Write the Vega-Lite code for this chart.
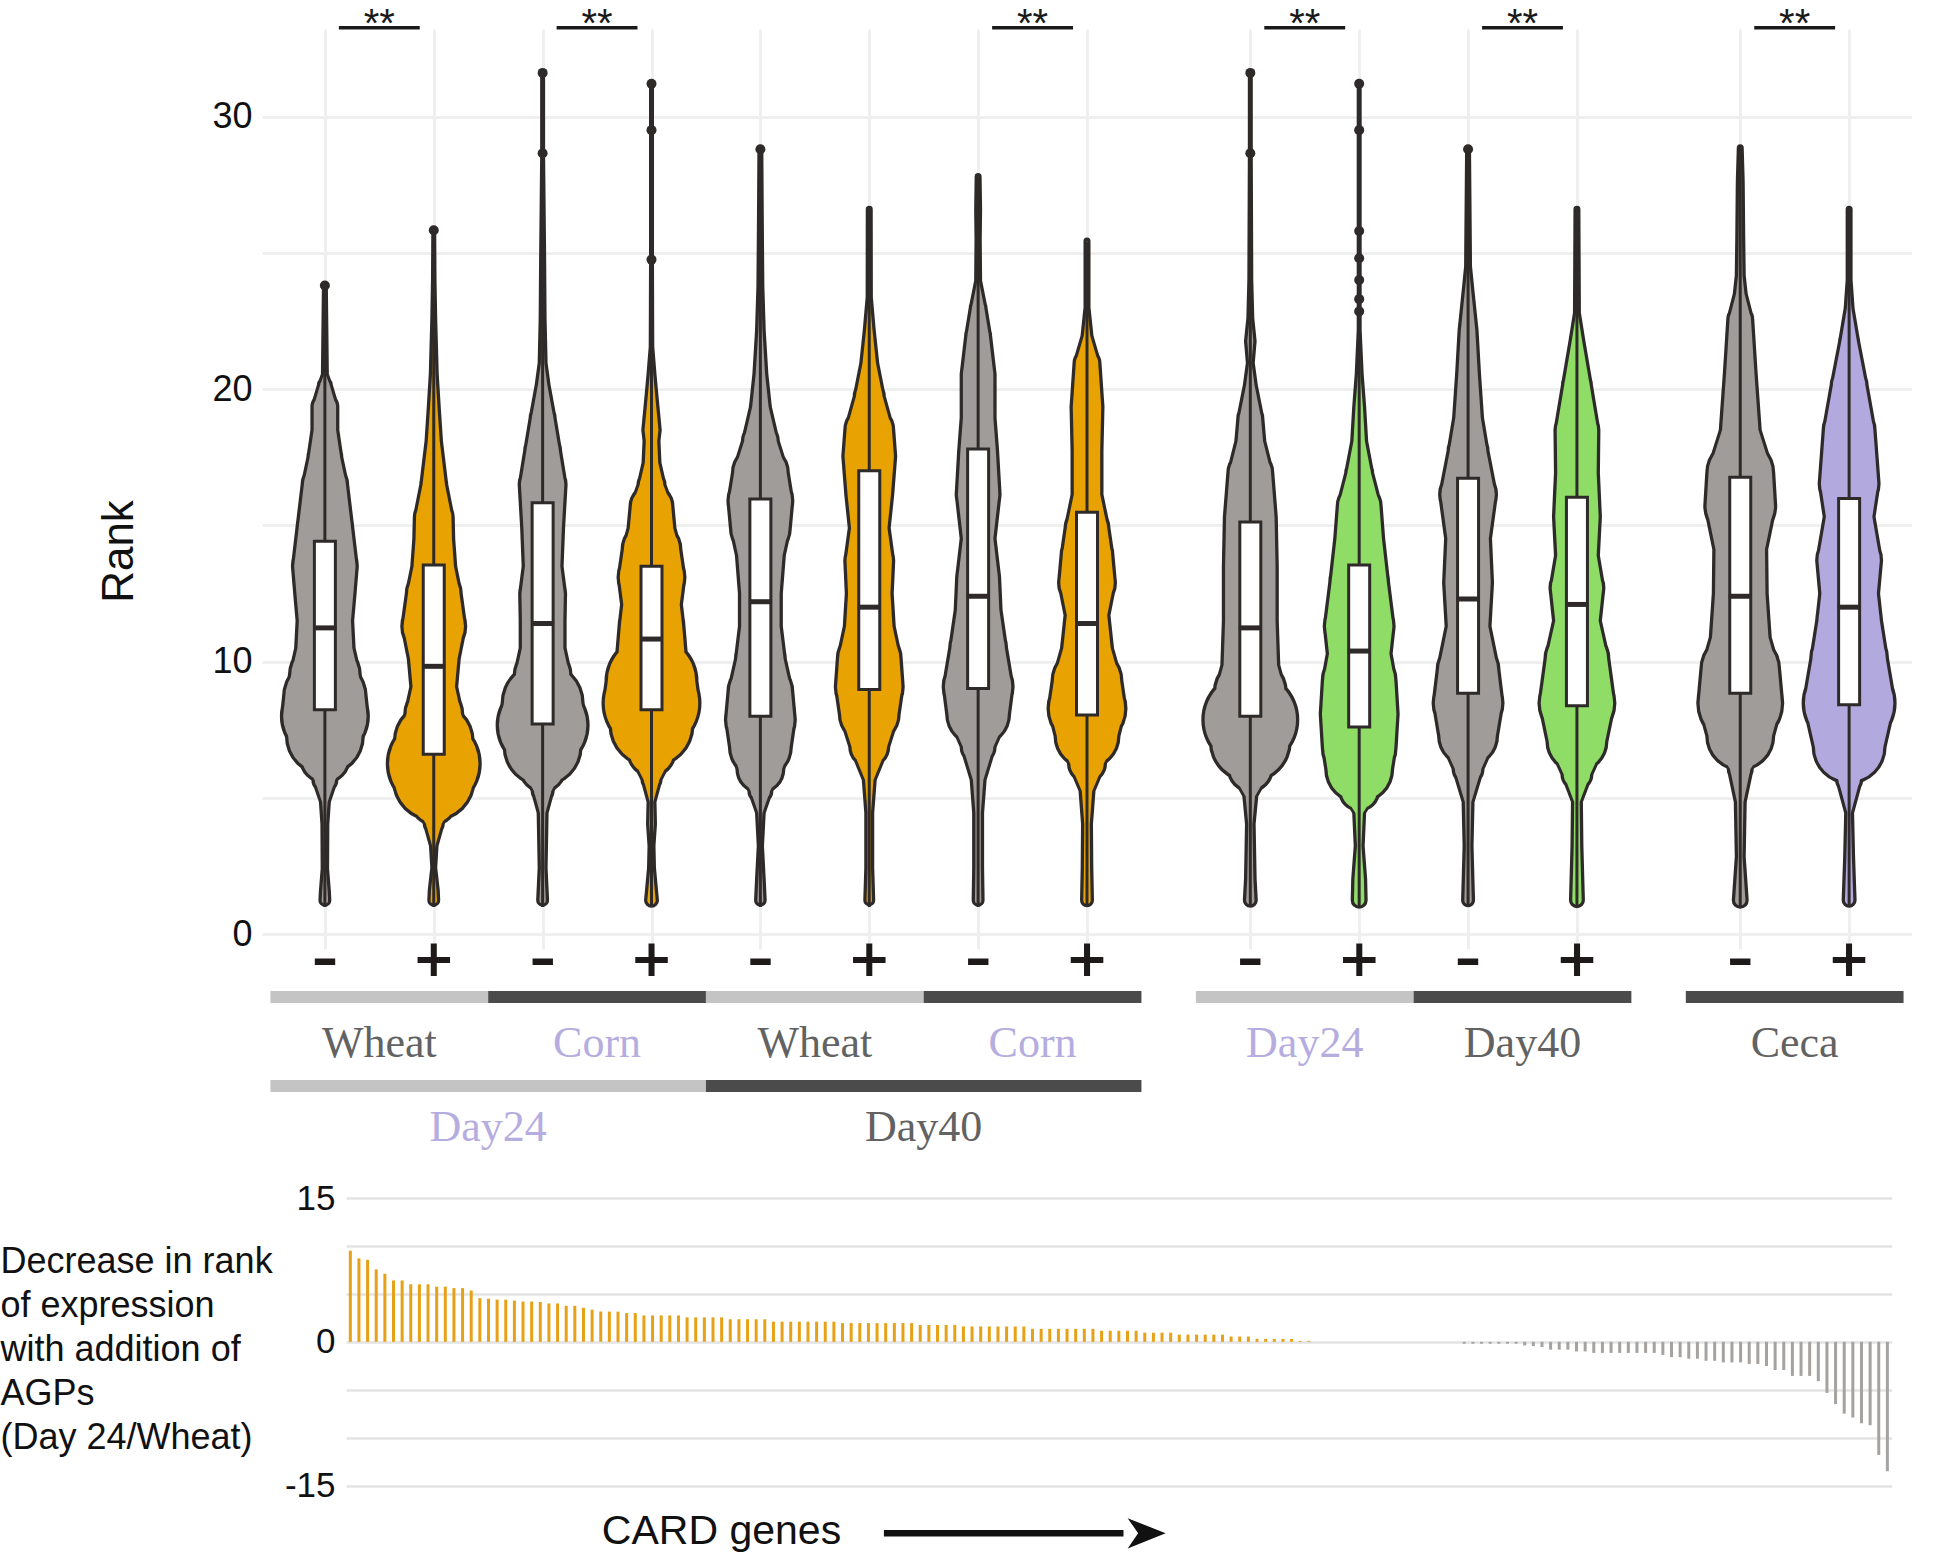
{
  "$schema": "https://vega.github.io/schema/vega-lite/v6.json",
  "padding": {"top": 5, "left": 0, "right": 0, "bottom": 0},
  "autosize": {"type": "pad"},
  "background": "white",
  "bounds": "flush",
  "spacing": 0,
  "config": {"view": {"stroke": null}, "font": "Liberation Sans"},
  "resolve": {"scale": {"color": "independent", "size": "independent"}},
  "datasets": {
    "violin": [
      {"v":"D24W-","r":1.25,"d":0.13},{"v":"D24W-","r":1.6,"d":0.12},{"v":"D24W-","r":2.4,"d":0.085},{"v":"D24W-","r":4.05,"d":0.09},{"v":"D24W-","r":4.85,"d":0.12},{"v":"D24W-","r":5.66,"d":0.27},{"v":"D24W-","r":6.46,"d":0.52},{"v":"D24W-","r":7.27,"d":0.8},{"v":"D24W-","r":8.0,"d":0.9},{"v":"D24W-","r":8.68,"d":0.86},{"v":"D24W-","r":9.5,"d":0.74},{"v":"D24W-","r":10.5,"d":0.615},{"v":"D24W-","r":11.5,"d":0.587},{"v":"D24W-","r":12.5,"d":0.635},{"v":"D24W-","r":13.5,"d":0.68},{"v":"D24W-","r":14.9,"d":0.59},{"v":"D24W-","r":16.5,"d":0.486},{"v":"D24W-","r":17.5,"d":0.37},{"v":"D24W-","r":18.5,"d":0.29},{"v":"D24W-","r":19.35,"d":0.29},{"v":"D24W-","r":20.15,"d":0.16},{"v":"D24W-","r":20.55,"d":0.08},{"v":"D24W-","r":22.2,"d":0.07},{"v":"D24W-","r":23.8,"d":0.06},
      {"v":"D24W+","r":1.25,"d":0.13},{"v":"D24W+","r":1.63,"d":0.12},{"v":"D24W+","r":2.44,"d":0.07},{"v":"D24W+","r":3.24,"d":0.096},{"v":"D24W+","r":4.05,"d":0.22},{"v":"D24W+","r":4.85,"d":0.48},{"v":"D24W+","r":5.66,"d":0.84},{"v":"D24W+","r":6.26,"d":0.96},{"v":"D24W+","r":7.07,"d":0.82},{"v":"D24W+","r":8.08,"d":0.61},{"v":"D24W+","r":9.08,"d":0.49},{"v":"D24W+","r":10.1,"d":0.54},{"v":"D24W+","r":11.3,"d":0.67},{"v":"D24W+","r":12.5,"d":0.58},{"v":"D24W+","r":13.5,"d":0.47},{"v":"D24W+","r":14.5,"d":0.43},{"v":"D24W+","r":15.3,"d":0.42},{"v":"D24W+","r":16.5,"d":0.29},{"v":"D24W+","r":18.1,"d":0.185},{"v":"D24W+","r":19.35,"d":0.14},{"v":"D24W+","r":20.55,"d":0.1},{"v":"D24W+","r":22.57,"d":0.07},{"v":"D24W+","r":24.0,"d":0.056},{"v":"D24W+","r":25.8,"d":0.05},
      {"v":"D24C-","r":1.25,"d":0.13},{"v":"D24C-","r":2.44,"d":0.1},{"v":"D24C-","r":4.45,"d":0.12},{"v":"D24C-","r":5.26,"d":0.24},{"v":"D24C-","r":6.06,"d":0.48},{"v":"D24C-","r":6.87,"d":0.8},{"v":"D24C-","r":7.67,"d":0.94},{"v":"D24C-","r":8.48,"d":0.84},{"v":"D24C-","r":9.5,"d":0.6},{"v":"D24C-","r":10.5,"d":0.48},{"v":"D24C-","r":11.5,"d":0.48},{"v":"D24C-","r":12.5,"d":0.49},{"v":"D24C-","r":13.5,"d":0.42},{"v":"D24C-","r":14.9,"d":0.45},{"v":"D24C-","r":16.5,"d":0.5},{"v":"D24C-","r":17.74,"d":0.39},{"v":"D24C-","r":18.95,"d":0.28},{"v":"D24C-","r":20.15,"d":0.16},{"v":"D24C-","r":20.96,"d":0.1},{"v":"D24C-","r":22.57,"d":0.08},{"v":"D24C-","r":25.0,"d":0.07},{"v":"D24C-","r":28.6,"d":0.05},{"v":"D24C-","r":31.6,"d":0.05},
      {"v":"D24C+","r":1.25,"d":0.15},{"v":"D24C+","r":1.63,"d":0.13},{"v":"D24C+","r":2.44,"d":0.09},{"v":"D24C+","r":3.24,"d":0.08},{"v":"D24C+","r":4.05,"d":0.11},{"v":"D24C+","r":4.85,"d":0.1},{"v":"D24C+","r":5.66,"d":0.22},{"v":"D24C+","r":6.67,"d":0.5},{"v":"D24C+","r":7.67,"d":0.86},{"v":"D24C+","r":8.48,"d":1.0},{"v":"D24C+","r":9.28,"d":0.94},{"v":"D24C+","r":10.1,"d":0.735},{"v":"D24C+","r":11.3,"d":0.68},{"v":"D24C+","r":12.1,"d":0.63},{"v":"D24C+","r":13.1,"d":0.7},{"v":"D24C+","r":14.1,"d":0.62},{"v":"D24C+","r":14.9,"d":0.5},{"v":"D24C+","r":15.7,"d":0.46},{"v":"D24C+","r":16.5,"d":0.3},{"v":"D24C+","r":17.3,"d":0.2},{"v":"D24C+","r":18.1,"d":0.18},{"v":"D24C+","r":18.5,"d":0.205},{"v":"D24C+","r":19.75,"d":0.14},{"v":"D24C+","r":20.55,"d":0.1},{"v":"D24C+","r":21.56,"d":0.056},{"v":"D24C+","r":24.7,"d":0.05},{"v":"D24C+","r":29.5,"d":0.05},{"v":"D24C+","r":31.2,"d":0.05},
      {"v":"D40W-","r":1.25,"d":0.127},{"v":"D40W-","r":2.04,"d":0.107},{"v":"D40W-","r":3.24,"d":0.073},{"v":"D40W-","r":4.45,"d":0.107},{"v":"D40W-","r":5.26,"d":0.26},{"v":"D40W-","r":6.06,"d":0.5},{"v":"D40W-","r":6.87,"d":0.65},{"v":"D40W-","r":7.87,"d":0.73},{"v":"D40W-","r":8.88,"d":0.68},{"v":"D40W-","r":10.1,"d":0.53},{"v":"D40W-","r":11.3,"d":0.45},{"v":"D40W-","r":12.5,"d":0.45},{"v":"D40W-","r":13.9,"d":0.51},{"v":"D40W-","r":14.9,"d":0.63},{"v":"D40W-","r":15.9,"d":0.68},{"v":"D40W-","r":16.93,"d":0.59},{"v":"D40W-","r":18.1,"d":0.39},{"v":"D40W-","r":19.35,"d":0.23},{"v":"D40W-","r":20.55,"d":0.16},{"v":"D40W-","r":22.17,"d":0.107},{"v":"D40W-","r":23.78,"d":0.08},{"v":"D40W-","r":26.0,"d":0.07},{"v":"D40W-","r":28.8,"d":0.06},
      {"v":"D40W+","r":1.25,"d":0.12},{"v":"D40W+","r":2.44,"d":0.1},{"v":"D40W+","r":4.45,"d":0.1},{"v":"D40W+","r":5.66,"d":0.15},{"v":"D40W+","r":6.87,"d":0.42},{"v":"D40W+","r":8.08,"d":0.63},{"v":"D40W+","r":9.08,"d":0.71},{"v":"D40W+","r":10.1,"d":0.67},{"v":"D40W+","r":11.3,"d":0.53},{"v":"D40W+","r":12.5,"d":0.49},{"v":"D40W+","r":13.7,"d":0.52},{"v":"D40W+","r":14.9,"d":0.43},{"v":"D40W+","r":16.13,"d":0.5},{"v":"D40W+","r":17.54,"d":0.56},{"v":"D40W+","r":18.5,"d":0.52},{"v":"D40W+","r":19.75,"d":0.33},{"v":"D40W+","r":20.96,"d":0.2},{"v":"D40W+","r":22.17,"d":0.13},{"v":"D40W+","r":23.37,"d":0.073},{"v":"D40W+","r":26.6,"d":0.07},
      {"v":"D40C-","r":1.25,"d":0.13},{"v":"D40C-","r":2.44,"d":0.12},{"v":"D40C-","r":4.45,"d":0.12},{"v":"D40C-","r":5.66,"d":0.17},{"v":"D40C-","r":6.87,"d":0.37},{"v":"D40C-","r":8.08,"d":0.66},{"v":"D40C-","r":9.08,"d":0.73},{"v":"D40C-","r":10.5,"d":0.6},{"v":"D40C-","r":11.9,"d":0.49},{"v":"D40C-","r":13.11,"d":0.46},{"v":"D40C-","r":14.52,"d":0.37},{"v":"D40C-","r":16.13,"d":0.47},{"v":"D40C-","r":17.74,"d":0.42},{"v":"D40C-","r":18.95,"d":0.37},{"v":"D40C-","r":20.55,"d":0.37},{"v":"D40C-","r":21.96,"d":0.28},{"v":"D40C-","r":22.97,"d":0.19},{"v":"D40C-","r":23.98,"d":0.08},{"v":"D40C-","r":25.5,"d":0.073},{"v":"D40C-","r":26.6,"d":0.08},{"v":"D40C-","r":27.8,"d":0.07},
      {"v":"D40C+","r":1.25,"d":0.14},{"v":"D40C+","r":2.44,"d":0.127},{"v":"D40C+","r":4.05,"d":0.12},{"v":"D40C+","r":5.26,"d":0.17},{"v":"D40C+","r":6.26,"d":0.4},{"v":"D40C+","r":7.27,"d":0.67},{"v":"D40C+","r":8.28,"d":0.81},{"v":"D40C+","r":9.28,"d":0.73},{"v":"D40C+","r":10.5,"d":0.54},{"v":"D40C+","r":11.7,"d":0.47},{"v":"D40C+","r":12.9,"d":0.6},{"v":"D40C+","r":13.9,"d":0.55},{"v":"D40C+","r":14.9,"d":0.47},{"v":"D40C+","r":16.13,"d":0.33},{"v":"D40C+","r":17.74,"d":0.33},{"v":"D40C+","r":19.35,"d":0.35},{"v":"D40C+","r":20.96,"d":0.29},{"v":"D40C+","r":21.96,"d":0.13},{"v":"D40C+","r":23.0,"d":0.07},{"v":"D40C+","r":25.43,"d":0.07},
      {"v":"D24-","r":1.25,"d":0.15},{"v":"D24-","r":2.04,"d":0.127},{"v":"D24-","r":4.05,"d":0.107},{"v":"D24-","r":5.06,"d":0.16},{"v":"D24-","r":6.06,"d":0.47},{"v":"D24-","r":7.07,"d":0.83},{"v":"D24-","r":7.87,"d":0.98},{"v":"D24-","r":8.88,"d":0.75},{"v":"D24-","r":9.88,"d":0.6},{"v":"D24-","r":11.5,"d":0.57},{"v":"D24-","r":13.5,"d":0.57},{"v":"D24-","r":15.32,"d":0.55},{"v":"D24-","r":16.93,"d":0.48},{"v":"D24-","r":18.1,"d":0.32},{"v":"D24-","r":18.95,"d":0.28},{"v":"D24-","r":20.15,"d":0.15},{"v":"D24-","r":20.96,"d":0.09},{"v":"D24-","r":21.76,"d":0.127},{"v":"D24-","r":22.6,"d":0.08},{"v":"D24-","r":24.0,"d":0.06},{"v":"D24-","r":28.65,"d":0.05},{"v":"D24-","r":31.6,"d":0.05},
      {"v":"D24+","r":1.25,"d":0.17},{"v":"D24+","r":2.04,"d":0.16},{"v":"D24+","r":3.24,"d":0.11},{"v":"D24+","r":4.45,"d":0.14},{"v":"D24+","r":5.26,"d":0.42},{"v":"D24+","r":6.06,"d":0.7},{"v":"D24+","r":6.87,"d":0.77},{"v":"D24+","r":8.08,"d":0.81},{"v":"D24+","r":9.28,"d":0.77},{"v":"D24+","r":10.29,"d":0.67},{"v":"D24+","r":11.3,"d":0.73},{"v":"D24+","r":12.9,"d":0.62},{"v":"D24+","r":14.52,"d":0.52},{"v":"D24+","r":15.72,"d":0.47},{"v":"D24+","r":16.93,"d":0.3},{"v":"D24+","r":18.1,"d":0.18},{"v":"D24+","r":19.35,"d":0.14},{"v":"D24+","r":20.55,"d":0.09},{"v":"D24+","r":22.17,"d":0.05},{"v":"D24+","r":25.8,"d":0.05},{"v":"D24+","r":31.2,"d":0.05},
      {"v":"D40-","r":1.25,"d":0.14},{"v":"D40-","r":3.24,"d":0.11},{"v":"D40-","r":4.85,"d":0.13},{"v":"D40-","r":6.06,"d":0.33},{"v":"D40-","r":7.27,"d":0.62},{"v":"D40-","r":8.48,"d":0.73},{"v":"D40-","r":9.69,"d":0.65},{"v":"D40-","r":11.3,"d":0.47},{"v":"D40-","r":12.9,"d":0.52},{"v":"D40-","r":14.52,"d":0.48},{"v":"D40-","r":16.13,"d":0.6},{"v":"D40-","r":17.74,"d":0.43},{"v":"D40-","r":18.95,"d":0.32},{"v":"D40-","r":20.55,"d":0.26},{"v":"D40-","r":22.17,"d":0.21},{"v":"D40-","r":23.58,"d":0.13},{"v":"D40-","r":24.5,"d":0.08},{"v":"D40-","r":28.8,"d":0.06},
      {"v":"D40+","r":1.25,"d":0.16},{"v":"D40+","r":3.24,"d":0.13},{"v":"D40+","r":4.85,"d":0.12},{"v":"D40+","r":5.86,"d":0.33},{"v":"D40+","r":7.07,"d":0.63},{"v":"D40+","r":8.48,"d":0.79},{"v":"D40+","r":10.1,"d":0.67},{"v":"D40+","r":11.5,"d":0.5},{"v":"D40+","r":12.7,"d":0.57},{"v":"D40+","r":13.9,"d":0.46},{"v":"D40+","r":15.32,"d":0.5},{"v":"D40+","r":16.93,"d":0.46},{"v":"D40+","r":18.5,"d":0.47},{"v":"D40+","r":20.15,"d":0.32},{"v":"D40+","r":21.76,"d":0.17},{"v":"D40+","r":22.8,"d":0.08},{"v":"D40+","r":26.6,"d":0.07},
      {"v":"Ceca-","r":1.25,"d":0.17},{"v":"Ceca-","r":2.84,"d":0.11},{"v":"Ceca-","r":4.85,"d":0.13},{"v":"Ceca-","r":6.06,"d":0.27},{"v":"Ceca-","r":7.27,"d":0.7},{"v":"Ceca-","r":8.48,"d":0.88},{"v":"Ceca-","r":9.69,"d":0.82},{"v":"Ceca-","r":10.9,"d":0.63},{"v":"Ceca-","r":12.5,"d":0.57},{"v":"Ceca-","r":14.12,"d":0.56},{"v":"Ceca-","r":15.72,"d":0.74},{"v":"Ceca-","r":16.93,"d":0.7},{"v":"Ceca-","r":18.5,"d":0.43},{"v":"Ceca-","r":20.55,"d":0.35},{"v":"Ceca-","r":22.57,"d":0.28},{"v":"Ceca-","r":23.5,"d":0.15},{"v":"Ceca-","r":24.18,"d":0.11},{"v":"Ceca-","r":25.6,"d":0.1},{"v":"Ceca-","r":27.6,"d":0.09},{"v":"Ceca-","r":28.85,"d":0.07},
      {"v":"Ceca+","r":1.25,"d":0.15},{"v":"Ceca+","r":2.84,"d":0.12},{"v":"Ceca+","r":4.45,"d":0.1},{"v":"Ceca+","r":5.66,"d":0.28},{"v":"Ceca+","r":6.87,"d":0.75},{"v":"Ceca+","r":8.48,"d":0.95},{"v":"Ceca+","r":10.1,"d":0.8},{"v":"Ceca+","r":11.5,"d":0.68},{"v":"Ceca+","r":12.5,"d":0.62},{"v":"Ceca+","r":13.71,"d":0.68},{"v":"Ceca+","r":15.32,"d":0.53},{"v":"Ceca+","r":16.53,"d":0.63},{"v":"Ceca+","r":18.5,"d":0.55},{"v":"Ceca+","r":20.15,"d":0.39},{"v":"Ceca+","r":21.76,"d":0.22},{"v":"Ceca+","r":22.97,"d":0.11},{"v":"Ceca+","r":24.0,"d":0.07},{"v":"Ceca+","r":26.6,"d":0.07}
    ],
    "box": [
      {"v":"D24W-","lo":1,"hi":23.8,"q1":8.24,"med":11.24,"q3":14.42},
      {"v":"D24W+","lo":1,"hi":25.8,"q1":6.6,"med":9.83,"q3":13.55},
      {"v":"D24C-","lo":1,"hi":31.6,"q1":7.71,"med":11.4,"q3":15.83},
      {"v":"D24C+","lo":1,"hi":31.2,"q1":8.24,"med":10.83,"q3":13.5},
      {"v":"D40W-","lo":1,"hi":28.8,"q1":8.0,"med":12.2,"q3":15.97},
      {"v":"D40W+","lo":1,"hi":26.6,"q1":8.98,"med":12.0,"q3":17.0},
      {"v":"D40C-","lo":1,"hi":27.8,"q1":9.02,"med":12.4,"q3":17.8},
      {"v":"D40C+","lo":1,"hi":25.4,"q1":8.04,"med":11.4,"q3":15.48},
      {"v":"D24-","lo":1,"hi":31.6,"q1":8.0,"med":11.24,"q3":15.12},
      {"v":"D24+","lo":1,"hi":31.2,"q1":7.6,"med":10.39,"q3":13.55},
      {"v":"D40-","lo":1,"hi":28.8,"q1":8.84,"med":12.3,"q3":16.73},
      {"v":"D40+","lo":1,"hi":26.6,"q1":8.38,"med":12.1,"q3":16.03},
      {"v":"Ceca-","lo":1,"hi":28.85,"q1":8.84,"med":12.4,"q3":16.77},
      {"v":"Ceca+","lo":1,"hi":26.6,"q1":8.42,"med":12.0,"q3":15.99}
    ],
    "out": [
      {"v":"D24W-","r":23.8},{"v":"D24W+","r":25.83},
      {"v":"D24C-","r":31.6},{"v":"D24C-","r":28.65},
      {"v":"D24C+","r":31.2},{"v":"D24C+","r":29.5},{"v":"D24C+","r":24.75},
      {"v":"D40W-","r":28.8},
      {"v":"D24-","r":31.6},{"v":"D24-","r":28.65},
      {"v":"D24+","r":31.2},{"v":"D24+","r":29.5},{"v":"D24+","r":25.8},{"v":"D24+","r":24.8},{"v":"D24+","r":24.0},{"v":"D24+","r":23.3},{"v":"D24+","r":22.85},
      {"v":"D40-","r":28.8}
    ],
    "sig": [
      {"a":"D24W-","b":"D24W+","mid":"b1","t":"**"},
      {"a":"D24C-","b":"D24C+","mid":"b3","t":"**"},
      {"a":"D40C-","b":"D40C+","mid":"b7","t":"**"},
      {"a":"D24-","b":"D24+","mid":"b10","t":"**"},
      {"a":"D40-","b":"D40+","mid":"b12","t":"**"},
      {"a":"Ceca-","b":"Ceca+","mid":"b15","t":"**"}
    ],
    "annot": [
      {"kind":"sign","row":"sign","at":"D24W-","txt":"–"},{"kind":"sign","row":"sign","at":"D24W+","txt":"+"},
      {"kind":"sign","row":"sign","at":"D24C-","txt":"–"},{"kind":"sign","row":"sign","at":"D24C+","txt":"+"},
      {"kind":"sign","row":"sign","at":"D40W-","txt":"–"},{"kind":"sign","row":"sign","at":"D40W+","txt":"+"},
      {"kind":"sign","row":"sign","at":"D40C-","txt":"–"},{"kind":"sign","row":"sign","at":"D40C+","txt":"+"},
      {"kind":"sign","row":"sign","at":"D24-","txt":"–"},{"kind":"sign","row":"sign","at":"D24+","txt":"+"},
      {"kind":"sign","row":"sign","at":"D40-","txt":"–"},{"kind":"sign","row":"sign","at":"D40+","txt":"+"},
      {"kind":"sign","row":"sign","at":"Ceca-","txt":"–"},{"kind":"sign","row":"sign","at":"Ceca+","txt":"+"},
      {"kind":"bar1","row":"bar1","from":"b0","to":"b2","shade":"light"},
      {"kind":"bar1","row":"bar1","from":"b2","to":"b4","shade":"dark"},
      {"kind":"bar1","row":"bar1","from":"b4","to":"b6","shade":"light"},
      {"kind":"bar1","row":"bar1","from":"b6","to":"b8","shade":"dark"},
      {"kind":"bar1","row":"bar1","from":"b9","to":"b11","shade":"light"},
      {"kind":"bar1","row":"bar1","from":"b11","to":"b13","shade":"dark"},
      {"kind":"bar1","row":"bar1","from":"b14","to":"b16","shade":"dark"},
      {"kind":"bar2","row":"bar2","from":"b0","to":"b4","shade":"light"},
      {"kind":"bar2","row":"bar2","from":"b4","to":"b8","shade":"dark"},
      {"kind":"label","row":"label1","at":"b1","txt":"Wheat","tone":"grey"},
      {"kind":"label","row":"label1","at":"b3","txt":"Corn","tone":"lav"},
      {"kind":"label","row":"label1","at":"b5","txt":"Wheat","tone":"grey"},
      {"kind":"label","row":"label1","at":"b7","txt":"Corn","tone":"lav"},
      {"kind":"label","row":"label1","at":"b10","txt":"Day24","tone":"lav"},
      {"kind":"label","row":"label1","at":"b12","txt":"Day40","tone":"grey"},
      {"kind":"label","row":"label1","at":"b15","txt":"Ceca","tone":"grey"},
      {"kind":"label","row":"label2","at":"b2","txt":"Day24","tone":"lav"},
      {"kind":"label","row":"label2","at":"b6","txt":"Day40","tone":"grey"}
    ],
    "genes": [
      {"g":1,"v":9.5},{"g":2,"v":8.7},{"g":3,"v":8.55},{"g":4,"v":7.55},{"g":5,"v":7.1},{"g":6,"v":6.4},{"g":7,"v":6.4},{"g":8,"v":6.0},{"g":9,"v":6.0},{"g":10,"v":6.0},
      {"g":11,"v":5.75},{"g":12,"v":5.75},{"g":13,"v":5.6},{"g":14,"v":5.6},{"g":15,"v":5.35},{"g":16,"v":4.55},{"g":17,"v":4.5},{"g":18,"v":4.4},{"g":19,"v":4.4},{"g":20,"v":4.3},
      {"g":21,"v":4.2},{"g":22,"v":4.2},{"g":23,"v":4.15},{"g":24,"v":4.0},{"g":25,"v":4.0},{"g":26,"v":3.75},{"g":27,"v":3.75},{"g":28,"v":3.55},{"g":29,"v":3.35},{"g":30,"v":3.15},
      {"g":31,"v":3.15},{"g":32,"v":3.15},{"g":33,"v":3.0},{"g":34,"v":3.0},{"g":35,"v":2.75},{"g":36,"v":2.75},{"g":37,"v":2.75},{"g":38,"v":2.75},{"g":39,"v":2.75},{"g":40,"v":2.55},
      {"g":41,"v":2.55},{"g":42,"v":2.55},{"g":43,"v":2.55},{"g":44,"v":2.55},{"g":45,"v":2.35},{"g":46,"v":2.35},{"g":47,"v":2.35},{"g":48,"v":2.35},{"g":49,"v":2.35},{"g":50,"v":2.1},
      {"g":51,"v":2.1},{"g":52,"v":2.1},{"g":53,"v":2.1},{"g":54,"v":2.1},{"g":55,"v":2.1},{"g":56,"v":2.1},{"g":57,"v":2.1},{"g":58,"v":1.95},{"g":59,"v":1.95},{"g":60,"v":1.95},
      {"g":61,"v":1.95},{"g":62,"v":1.95},{"g":63,"v":1.95},{"g":64,"v":1.95},{"g":65,"v":1.95},{"g":66,"v":1.95},{"g":67,"v":1.75},{"g":68,"v":1.75},{"g":69,"v":1.75},{"g":70,"v":1.75},
      {"g":71,"v":1.75},{"g":72,"v":1.6},{"g":73,"v":1.6},{"g":74,"v":1.6},{"g":75,"v":1.6},{"g":76,"v":1.6},{"g":77,"v":1.6},{"g":78,"v":1.6},{"g":79,"v":1.6},{"g":80,"v":1.35},
      {"g":81,"v":1.35},{"g":82,"v":1.35},{"g":83,"v":1.35},{"g":84,"v":1.35},{"g":85,"v":1.35},{"g":86,"v":1.35},{"g":87,"v":1.35},{"g":88,"v":1.15},{"g":89,"v":1.15},{"g":90,"v":1.15},
      {"g":91,"v":1.15},{"g":92,"v":1.15},{"g":93,"v":0.95},{"g":94,"v":0.95},{"g":95,"v":0.95},{"g":96,"v":0.95},{"g":97,"v":0.75},{"g":98,"v":0.75},{"g":99,"v":0.75},{"g":100,"v":0.75},
      {"g":101,"v":0.75},{"g":102,"v":0.75},{"g":103,"v":0.55},{"g":104,"v":0.55},{"g":105,"v":0.55},{"g":106,"v":0.3},{"g":107,"v":0.3},{"g":108,"v":0.3},{"g":109,"v":0.3},{"g":110,"v":0.3},
      {"g":111,"v":0.1},{"g":112,"v":0.1},{"g":113,"v":0},{"g":114,"v":0},{"g":115,"v":0},{"g":116,"v":0},{"g":117,"v":0},{"g":118,"v":0},{"g":119,"v":0},{"g":120,"v":0},
      {"g":121,"v":0},{"g":122,"v":0},{"g":123,"v":0},{"g":124,"v":0},{"g":125,"v":0},{"g":126,"v":0},{"g":127,"v":0},{"g":128,"v":0},{"g":129,"v":0},{"g":130,"v":-0.2},
      {"g":131,"v":-0.2},{"g":132,"v":-0.2},{"g":133,"v":-0.2},{"g":134,"v":-0.2},{"g":135,"v":-0.2},{"g":136,"v":-0.2},{"g":137,"v":-0.38},{"g":138,"v":-0.45},{"g":139,"v":-0.55},{"g":140,"v":-0.82},
      {"g":141,"v":-0.82},{"g":142,"v":-0.82},{"g":143,"v":-1.0},{"g":144,"v":-1.0},{"g":145,"v":-1.16},{"g":146,"v":-1.16},{"g":147,"v":-1.16},{"g":148,"v":-1.16},{"g":149,"v":-1.16},{"g":150,"v":-1.16},
      {"g":151,"v":-1.16},{"g":152,"v":-1.16},{"g":153,"v":-1.37},{"g":154,"v":-1.6},{"g":155,"v":-1.6},{"g":156,"v":-1.77},{"g":157,"v":-1.77},{"g":158,"v":-1.98},{"g":159,"v":-1.98},{"g":160,"v":-2.15},
      {"g":161,"v":-2.15},{"g":162,"v":-2.15},{"g":163,"v":-2.32},{"g":164,"v":-2.32},{"g":165,"v":-2.53},{"g":166,"v":-2.94},{"g":167,"v":-2.94},{"g":168,"v":-3.56},{"g":169,"v":-3.56},{"g":170,"v":-3.56},
      {"g":171,"v":-4.1},{"g":172,"v":-5.33},{"g":173,"v":-6.5},{"g":174,"v":-7.5},{"g":175,"v":-7.9},{"g":176,"v":-8.5},{"g":177,"v":-8.7},{"g":178,"v":-11.8},{"g":179,"v":-13.5}
    ]
  },
  "vconcat": [
    {
      "width": 1650,
      "height": 920,
      "resolve": {"scale": {"size": "independent"}},
      "layer": [
        {
          "data": {"name": "violin"},
          "mark": {"type": "trail", "color": "#2E2A29"},
          "encoding": {
            "x": {"field": "v", "type": "nominal",
              "scale": {"type": "point", "padding": 0.155, "domain": ["b0","D24W-","b1","D24W+","b2","D24C-","b3","D24C+","b4","D40W-","b5","D40W+","b6","D40C-","b7","D40C+","b8","b9","D24-","b10","D24+","b11","D40-","b12","D40+","b13","b14","Ceca-","b15","Ceca+","b16"]},
              "axis": {"values": ["D24W-","D24W+","D24C-","D24C+","D40W-","D40W+","D40C-","D40C+","D24-","D24+","D40-","D40+","Ceca-","Ceca+"], "labels": false, "ticks": false, "domain": false, "grid": true, "gridColor": "#EFEFEF", "gridWidth": 3, "title": null}},
            "y": {"field": "r", "type": "quantitative",
              "scale": {"domain": [-0.54, 33.21], "nice": false, "zero": false},
              "axis": {"values": [0,5,10,15,20,25,30], "labelExpr": "datum.value % 10 === 0 ? datum.label : ''", "labelOverlap": false, "labelFontSize": 36, "labelColor": "#111111", "labelPadding": 10, "ticks": false, "domain": false, "grid": true, "gridColor": "#EFEFEF", "gridWidth": 3,
                "title": "Rank", "titleFontSize": 44, "titleFontWeight": "normal", "titleColor": "#111111", "titleX": -143, "titleY": 522, "titleAngle": 270, "titleAlign": "center", "titleBaseline": "middle"}},
            "size": {"field": "d", "type": "quantitative", "scale": {"domain": [0, 1], "range": [0, 100], "zero": false}, "legend": null},
            "detail": {"field": "v"},
            "order": {"field": "r", "type": "quantitative"}
          }
        },
        {
          "data": {"name": "violin"},
          "mark": {"type": "trail"},
          "encoding": {
            "x": {"field": "v", "type": "nominal",
              "scale": {"type": "point", "padding": 0.155, "domain": ["b0","D24W-","b1","D24W+","b2","D24C-","b3","D24C+","b4","D40W-","b5","D40W+","b6","D40C-","b7","D40C+","b8","b9","D24-","b10","D24+","b11","D40-","b12","D40+","b13","b14","Ceca-","b15","Ceca+","b16"]},
              "axis": {"values": ["D24W-","D24W+","D24C-","D24C+","D40W-","D40W+","D40C-","D40C+","D24-","D24+","D40-","D40+","Ceca-","Ceca+"], "labels": false, "ticks": false, "domain": false, "grid": true, "gridColor": "#EFEFEF", "gridWidth": 3, "title": null}},
            "y": {"field": "r", "type": "quantitative", "scale": {"domain": [-0.54, 33.21], "nice": false, "zero": false}},
            "size": {"field": "d", "type": "quantitative", "scale": {"domain": [0.066, 1], "range": [0, 93.4], "clamp": true, "zero": false}, "legend": null},
            "color": {"field": "v", "type": "nominal", "legend": null,
              "scale": {"domain": ["D24W-","D24W+","D24C-","D24C+","D40W-","D40W+","D40C-","D40C+","D24-","D24+","D40-","D40+","Ceca-","Ceca+"],
                "range": ["#A09C99","#E8A202","#A09C99","#E8A202","#A09C99","#E8A202","#A09C99","#E8A202","#A09C99","#8FDC66","#A09C99","#8FDC66","#A09C99","#B2A9DF"]}},
            "detail": {"field": "v"},
            "order": {"field": "r", "type": "quantitative"}
          }
        },
        {
          "data": {"name": "box"},
          "mark": {"type": "rule", "color": "#2E2A29", "strokeWidth": 3},
          "encoding": {
            "x": {"field": "v", "type": "nominal",
              "scale": {"type": "point", "padding": 0.155, "domain": ["b0","D24W-","b1","D24W+","b2","D24C-","b3","D24C+","b4","D40W-","b5","D40W+","b6","D40C-","b7","D40C+","b8","b9","D24-","b10","D24+","b11","D40-","b12","D40+","b13","b14","Ceca-","b15","Ceca+","b16"]},
              "axis": {"values": ["D24W-","D24W+","D24C-","D24C+","D40W-","D40W+","D40C-","D40C+","D24-","D24+","D40-","D40+","Ceca-","Ceca+"], "labels": false, "ticks": false, "domain": false, "grid": true, "gridColor": "#EFEFEF", "gridWidth": 3, "title": null}},
            "y": {"field": "lo", "type": "quantitative", "scale": {"domain": [-0.54, 33.21], "nice": false, "zero": false}},
            "y2": {"field": "hi"}
          }
        },
        {
          "data": {"name": "box"},
          "mark": {"type": "bar", "width": 21, "fill": "white", "stroke": "#2E2A29", "strokeWidth": 3},
          "encoding": {
            "x": {"field": "v", "type": "nominal",
              "scale": {"type": "point", "padding": 0.155, "domain": ["b0","D24W-","b1","D24W+","b2","D24C-","b3","D24C+","b4","D40W-","b5","D40W+","b6","D40C-","b7","D40C+","b8","b9","D24-","b10","D24+","b11","D40-","b12","D40+","b13","b14","Ceca-","b15","Ceca+","b16"]},
              "axis": {"values": ["D24W-","D24W+","D24C-","D24C+","D40W-","D40W+","D40C-","D40C+","D24-","D24+","D40-","D40+","Ceca-","Ceca+"], "labels": false, "ticks": false, "domain": false, "grid": true, "gridColor": "#EFEFEF", "gridWidth": 3, "title": null}},
            "y": {"field": "q1", "type": "quantitative", "scale": {"domain": [-0.54, 33.21], "nice": false, "zero": false}},
            "y2": {"field": "q3"}
          }
        },
        {
          "data": {"name": "box"},
          "mark": {"type": "tick", "color": "#2E2A29", "thickness": 5, "size": 23, "opacity": 1},
          "encoding": {
            "x": {"field": "v", "type": "nominal",
              "scale": {"type": "point", "padding": 0.155, "domain": ["b0","D24W-","b1","D24W+","b2","D24C-","b3","D24C+","b4","D40W-","b5","D40W+","b6","D40C-","b7","D40C+","b8","b9","D24-","b10","D24+","b11","D40-","b12","D40+","b13","b14","Ceca-","b15","Ceca+","b16"]},
              "axis": {"values": ["D24W-","D24W+","D24C-","D24C+","D40W-","D40W+","D40C-","D40C+","D24-","D24+","D40-","D40+","Ceca-","Ceca+"], "labels": false, "ticks": false, "domain": false, "grid": true, "gridColor": "#EFEFEF", "gridWidth": 3, "title": null}},
            "y": {"field": "med", "type": "quantitative", "scale": {"domain": [-0.54, 33.21], "nice": false, "zero": false}}
          }
        },
        {
          "data": {"name": "out"},
          "mark": {"type": "circle", "color": "#2E2A29", "size": 100, "opacity": 1},
          "encoding": {
            "x": {"field": "v", "type": "nominal",
              "scale": {"type": "point", "padding": 0.155, "domain": ["b0","D24W-","b1","D24W+","b2","D24C-","b3","D24C+","b4","D40W-","b5","D40W+","b6","D40C-","b7","D40C+","b8","b9","D24-","b10","D24+","b11","D40-","b12","D40+","b13","b14","Ceca-","b15","Ceca+","b16"]},
              "axis": {"values": ["D24W-","D24W+","D24C-","D24C+","D40W-","D40W+","D40C-","D40C+","D24-","D24+","D40-","D40+","Ceca-","Ceca+"], "labels": false, "ticks": false, "domain": false, "grid": true, "gridColor": "#EFEFEF", "gridWidth": 3, "title": null}},
            "y": {"field": "r", "type": "quantitative", "scale": {"domain": [-0.54, 33.21], "nice": false, "zero": false}}
          }
        },
        {
          "data": {"name": "sig"},
          "mark": {"type": "rule", "color": "#1A1A1A", "strokeWidth": 3.5, "xOffset": 14, "x2Offset": -14},
          "encoding": {
            "x": {"field": "a", "type": "nominal",
              "scale": {"type": "point", "padding": 0.155, "domain": ["b0","D24W-","b1","D24W+","b2","D24C-","b3","D24C+","b4","D40W-","b5","D40W+","b6","D40C-","b7","D40C+","b8","b9","D24-","b10","D24+","b11","D40-","b12","D40+","b13","b14","Ceca-","b15","Ceca+","b16"]},
              "axis": {"values": ["D24W-","D24W+","D24C-","D24C+","D40W-","D40W+","D40C-","D40C+","D24-","D24+","D40-","D40+","Ceca-","Ceca+"], "labels": false, "ticks": false, "domain": false, "grid": true, "gridColor": "#EFEFEF", "gridWidth": 3, "title": null}},
            "x2": {"field": "b"},
            "y": {"datum": 33.26, "type": "quantitative", "scale": {"domain": [-0.54, 33.21], "nice": false, "zero": false}}
          }
        },
        {
          "data": {"name": "sig"},
          "mark": {"type": "text", "fontSize": 40, "baseline": "alphabetic", "align": "center", "dy": 9.4, "color": "#1A1A1A"},
          "encoding": {
            "x": {"field": "mid", "type": "nominal",
              "scale": {"type": "point", "padding": 0.155, "domain": ["b0","D24W-","b1","D24W+","b2","D24C-","b3","D24C+","b4","D40W-","b5","D40W+","b6","D40C-","b7","D40C+","b8","b9","D24-","b10","D24+","b11","D40-","b12","D40+","b13","b14","Ceca-","b15","Ceca+","b16"]},
              "axis": {"values": ["D24W-","D24W+","D24C-","D24C+","D40W-","D40W+","D40C-","D40C+","D24-","D24+","D40-","D40+","Ceca-","Ceca+"], "labels": false, "ticks": false, "domain": false, "grid": true, "gridColor": "#EFEFEF", "gridWidth": 3, "title": null}},
            "y": {"datum": 33.26, "type": "quantitative", "scale": {"domain": [-0.54, 33.21], "nice": false, "zero": false}},
            "text": {"field": "t"}
          }
        }
      ]
    },
    {
      "width": 1650,
      "height": 248.7,
      "data": {"name": "annot"},
      "layer": [
        {
          "transform": [{"filter": "datum.kind === 'bar1'"}],
          "mark": {"type": "rule", "strokeWidth": 12, "yOffset": -5},
          "encoding": {
            "x": {"field": "from", "type": "nominal", "axis": null,
              "scale": {"type": "point", "padding": 0.155, "domain": ["b0","D24W-","b1","D24W+","b2","D24C-","b3","D24C+","b4","D40W-","b5","D40W+","b6","D40C-","b7","D40C+","b8","b9","D24-","b10","D24+","b11","D40-","b12","D40+","b13","b14","Ceca-","b15","Ceca+","b16"]}},
            "x2": {"field": "to"},
            "y": {"field": "row", "type": "nominal", "axis": null, "scale": {"type": "point", "padding": 0, "domain": ["sign","bar1","label1","bar2","label2"], "range": [11, 179]}},
            "color": {"condition": {"test": "datum.shade === 'light'", "value": "#C4C4C4"}, "value": "#4B4B4B"}
          }
        },
        {
          "transform": [{"filter": "datum.kind === 'bar2'"}],
          "mark": {"type": "rule", "strokeWidth": 12},
          "encoding": {
            "x": {"field": "from", "type": "nominal", "axis": null,
              "scale": {"type": "point", "padding": 0.155, "domain": ["b0","D24W-","b1","D24W+","b2","D24C-","b3","D24C+","b4","D40W-","b5","D40W+","b6","D40C-","b7","D40C+","b8","b9","D24-","b10","D24+","b11","D40-","b12","D40+","b13","b14","Ceca-","b15","Ceca+","b16"]}},
            "x2": {"field": "to"},
            "y": {"field": "row", "type": "nominal", "axis": null, "scale": {"type": "point", "padding": 0, "domain": ["sign","bar1","label1","bar2","label2"], "range": [11, 179]}},
            "color": {"condition": {"test": "datum.shade === 'light'", "value": "#C4C4C4"}, "value": "#4B4B4B"}
          }
        },
        {
          "transform": [{"filter": "datum.kind === 'label'"}],
          "mark": {"type": "text", "font": "Liberation Serif", "fontSize": 44, "baseline": "middle", "align": "center"},
          "encoding": {
            "x": {"field": "at", "type": "nominal", "axis": null,
              "scale": {"type": "point", "padding": 0.155, "domain": ["b0","D24W-","b1","D24W+","b2","D24C-","b3","D24C+","b4","D40W-","b5","D40W+","b6","D40C-","b7","D40C+","b8","b9","D24-","b10","D24+","b11","D40-","b12","D40+","b13","b14","Ceca-","b15","Ceca+","b16"]}},
            "y": {"field": "row", "type": "nominal", "axis": null, "scale": {"type": "point", "padding": 0, "domain": ["sign","bar1","label1","bar2","label2"], "range": [11, 179]}},
            "text": {"field": "txt"},
            "color": {"condition": {"test": "datum.tone === 'lav'", "value": "#B5ADE0"}, "value": "#626262"}
          }
        },
        {
          "transform": [{"filter": "datum.kind === 'sign'"}],
          "mark": {"type": "text", "font": "DejaVu Sans", "fontWeight": "bold", "fontSize": 52, "baseline": "middle", "align": "center", "color": "#1E1A1A"},
          "encoding": {
            "x": {"field": "at", "type": "nominal", "axis": null,
              "scale": {"type": "point", "padding": 0.155, "domain": ["b0","D24W-","b1","D24W+","b2","D24C-","b3","D24C+","b4","D40W-","b5","D40W+","b6","D40C-","b7","D40C+","b8","b9","D24-","b10","D24+","b11","D40-","b12","D40+","b13","b14","Ceca-","b15","Ceca+","b16"]}},
            "y": {"field": "row", "type": "nominal", "axis": null, "scale": {"type": "point", "padding": 0, "domain": ["sign","bar1","label1","bar2","label2"], "range": [11, 179]}},
            "text": {"field": "txt"}
          }
        }
      ]
    },
    {
      "bounds": "flush",
      "spacing": 0,
      "hconcat": [
        {
          "width": 84,
          "height": 287.6,
          "data": {"values": []},
          "mark": {"type": "point", "opacity": 0},
          "encoding": {}
        },
        {
          "width": 1545.7,
          "height": 287.6,
          "resolve": {"scale": {"x": "independent", "y": "independent"}, "axis": {"x": "independent", "y": "independent"}},
          "layer": [
            {
              "data": {"name": "genes"},
              "mark": {"type": "bar", "width": 3},
              "encoding": {
                "x": {"field": "g", "type": "ordinal", "scale": {"type": "band", "paddingInner": 0, "paddingOuter": 0},
                  "axis": {"labels": false, "ticks": false, "domain": false, "grid": false, "title": "CARD genes", "titleFontSize": 41, "titleFontWeight": "normal", "titleColor": "#111111", "titleX": 375, "titleY": 58, "titleAlign": "center", "titleBaseline": "alphabetic"}},
                "y": {"field": "v", "type": "quantitative", "scale": {"domain": [-15, 15], "nice": false, "zero": false},
                  "axis": {"values": [-15,-10,-5,0,5,10,15], "labelExpr": "datum.value === 15 ? '15' : datum.value === 0 ? '0' : datum.value === -15 ? '-15' : ''", "labelOverlap": false, "labelFontSize": 35, "labelColor": "#111111", "labelPadding": 11, "ticks": false, "domain": false, "grid": true, "gridColor": "#E3E3E3", "gridWidth": 2.5,
                    "title": ["Decrease in rank", "of expression", "with addition of", "AGPs", "(Day 24/Wheat)"], "titleFontSize": 36, "titleFontWeight": "normal", "titleColor": "#111111", "titleLineHeight": 44, "titleAngle": 0, "titleAlign": "left", "titleBaseline": "alphabetic", "titleX": -346, "titleY": 74}},
                "color": {"condition": {"test": "datum.v > 0", "value": "#E6A117"}, "value": "#A6A29F"}
              }
            },
            {
              "data": {"values": [{}]},
              "mark": {"type": "rule", "strokeWidth": 6.5, "color": "#111111"},
              "encoding": {
                "x": {"datum": 0.348, "type": "quantitative", "scale": {"domain": [0, 1], "nice": false, "zero": false}, "axis": null},
                "x2": {"datum": 0.503},
                "y": {"datum": -0.166, "type": "quantitative", "scale": {"domain": [0, 1], "nice": false, "zero": false}, "axis": null}
              }
            },
            {
              "data": {"values": [{}]},
              "mark": {"type": "point", "shape": "M1,0L-1,-0.8L-0.45,0L-1,0.8Z", "size": 1444, "filled": true, "color": "#111111", "opacity": 1},
              "encoding": {
                "x": {"datum": 0.518, "type": "quantitative", "scale": {"domain": [0, 1], "nice": false, "zero": false}, "axis": null},
                "y": {"datum": -0.166, "type": "quantitative", "scale": {"domain": [0, 1], "nice": false, "zero": false}, "axis": null}
              }
            }
          ]
        }
      ]
    }
  ]
}
